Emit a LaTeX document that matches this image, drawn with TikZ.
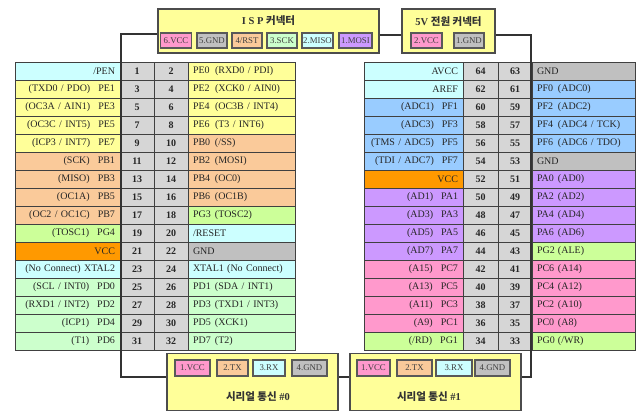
\documentclass[tikz,border=0pt]{standalone}
\usepackage{fontspec}
\setmainfont{Liberation Serif}
\newfontfamily\kor{Noto Sans CJK KR}
\definecolor{cyanc}{HTML}{CCFFFF}
\definecolor{yelc}{HTML}{FFFF99}
\definecolor{peach}{HTML}{FACA9A}
\definecolor{lime}{HTML}{CCFF99}
\definecolor{mint}{HTML}{CCFFCC}
\definecolor{vccor}{HTML}{FF9900}
\definecolor{gndgr}{HTML}{C0C0C0}
\definecolor{pingr}{HTML}{D6D6D6}
\definecolor{bluec}{HTML}{99CCFF}
\definecolor{purp}{HTML}{CC99FF}
\definecolor{pinkc}{HTML}{FF99CC}

\begin{document}
\begin{tikzpicture}[x=1pt,y=-1pt,
  tcell/.style={draw=black!75, line width=0.7pt, minimum height=18, inner xsep=5, inner ysep=0, text=black!85, font=\fontsize{10}{11}\selectfont},
  lcl/.style={tcell, text width=95, align=right},
  lcr/.style={tcell, text width=97, align=left},
  rcl/.style={tcell, text width=89, align=right},
  rcr/.style={tcell, text width=93, align=left},
  pinno/.style={tcell, minimum width=#1, fill=pingr, font=\bfseries\fontsize{10}{11}\selectfont},
  conbox/.style={draw=black!70, line width=1.5pt, fill=yelc, inner sep=0},
  pinbox/.style={draw=black!65, line width=1.2pt, minimum height=15, inner sep=0, text=black!75, font=\fontsize{8.8}{10}\selectfont},
  contitle/.style={font=\bfseries\fontsize{10.5}{12}\selectfont, text=black!80},
  wire/.style={draw=black!80, line width=1.5pt}]
\useasboundingbox (0,0) rectangle (640,418);
\node[lcl, fill=cyanc] (l1a) at (67.5,71) {/PEN};
\node[pinno=34] (l1b) at (137,71) {1};
\node[pinno=34] (l1c) at (171,71) {2};
\node[lcr, fill=yelc] (l1d) at (241.5,71) {\makebox[22pt][l]{PE0}(RXD0 / PDI)};
\node[lcl, fill=yelc] (l2a) at (67.5,89) {(TXD0 / PDO)\hspace{8pt}PE1};
\node[pinno=34] (l2b) at (137,89) {3};
\node[pinno=34] (l2c) at (171,89) {4};
\node[lcr, fill=yelc] (l2d) at (241.5,89) {\makebox[22pt][l]{PE2}(XCK0 / AIN0)};
\node[lcl, fill=yelc] (l3a) at (67.5,107) {(OC3A / AIN1)\hspace{8pt}PE3};
\node[pinno=34] (l3b) at (137,107) {5};
\node[pinno=34] (l3c) at (171,107) {6};
\node[lcr, fill=yelc] (l3d) at (241.5,107) {\makebox[22pt][l]{PE4}(OC3B / INT4)};
\node[lcl, fill=yelc] (l4a) at (67.5,125) {(OC3C / INT5)\hspace{8pt}PE5};
\node[pinno=34] (l4b) at (137,125) {7};
\node[pinno=34] (l4c) at (171,125) {8};
\node[lcr, fill=yelc] (l4d) at (241.5,125) {\makebox[22pt][l]{PE6}(T3 / INT6)};
\node[lcl, fill=yelc] (l5a) at (67.5,143) {(ICP3 / INT7)\hspace{8pt}PE7};
\node[pinno=34] (l5b) at (137,143) {9};
\node[pinno=34] (l5c) at (171,143) {10};
\node[lcr, fill=peach] (l5d) at (241.5,143) {\makebox[22pt][l]{PB0}(/SS)};
\node[lcl, fill=peach] (l6a) at (67.5,161) {(SCK)\hspace{8pt}PB1};
\node[pinno=34] (l6b) at (137,161) {11};
\node[pinno=34] (l6c) at (171,161) {12};
\node[lcr, fill=peach] (l6d) at (241.5,161) {\makebox[22pt][l]{PB2}(MOSI)};
\node[lcl, fill=peach] (l7a) at (67.5,179) {(MISO)\hspace{8pt}PB3};
\node[pinno=34] (l7b) at (137,179) {13};
\node[pinno=34] (l7c) at (171,179) {14};
\node[lcr, fill=peach] (l7d) at (241.5,179) {\makebox[22pt][l]{PB4}(OC0)};
\node[lcl, fill=peach] (l8a) at (67.5,197) {(OC1A)\hspace{8pt}PB5};
\node[pinno=34] (l8b) at (137,197) {15};
\node[pinno=34] (l8c) at (171,197) {16};
\node[lcr, fill=peach] (l8d) at (241.5,197) {\makebox[22pt][l]{PB6}(OC1B)};
\node[lcl, fill=peach] (l9a) at (67.5,215) {(OC2 / OC1C)\hspace{8pt}PB7};
\node[pinno=34] (l9b) at (137,215) {17};
\node[pinno=34] (l9c) at (171,215) {18};
\node[lcr, fill=lime] (l9d) at (241.5,215) {\makebox[22pt][l]{PG3}(TOSC2)};
\node[lcl, fill=lime] (l10a) at (67.5,233) {(TOSC1)\hspace{8pt}PG4};
\node[pinno=34] (l10b) at (137,233) {19};
\node[pinno=34] (l10c) at (171,233) {20};
\node[lcr, fill=cyanc] (l10d) at (241.5,233) {/RESET};
\node[lcl, fill=vccor] (l11a) at (67.5,251) {VCC};
\node[pinno=34] (l11b) at (137,251) {21};
\node[pinno=34] (l11c) at (171,251) {22};
\node[lcr, fill=gndgr] (l11d) at (241.5,251) {GND};
\node[lcl, fill=cyanc] (l12a) at (67.5,269) {(No Connect) XTAL2};
\node[pinno=34] (l12b) at (137,269) {23};
\node[pinno=34] (l12c) at (171,269) {24};
\node[lcr, fill=cyanc] (l12d) at (241.5,269) {XTAL1 (No Connect)};
\node[lcl, fill=mint] (l13a) at (67.5,287) {(SCL / INT0)\hspace{8pt}PD0};
\node[pinno=34] (l13b) at (137,287) {25};
\node[pinno=34] (l13c) at (171,287) {26};
\node[lcr, fill=mint] (l13d) at (241.5,287) {\makebox[22pt][l]{PD1}(SDA / INT1)};
\node[lcl, fill=mint] (l14a) at (67.5,305) {(RXD1 / INT2)\hspace{8pt}PD2};
\node[pinno=34] (l14b) at (137,305) {27};
\node[pinno=34] (l14c) at (171,305) {28};
\node[lcr, fill=mint] (l14d) at (241.5,305) {\makebox[22pt][l]{PD3}(TXD1 / INT3)};
\node[lcl, fill=mint] (l15a) at (67.5,323) {(ICP1)\hspace{8pt}PD4};
\node[pinno=34] (l15b) at (137,323) {29};
\node[pinno=34] (l15c) at (171,323) {30};
\node[lcr, fill=mint] (l15d) at (241.5,323) {\makebox[22pt][l]{PD5}(XCK1)};
\node[lcl, fill=mint] (l16a) at (67.5,341) {(T1)\hspace{8pt}PD6};
\node[pinno=34] (l16b) at (137,341) {31};
\node[pinno=34] (l16c) at (171,341) {32};
\node[lcr, fill=mint] (l16d) at (241.5,341) {\makebox[22pt][l]{PD7}(T2)};
\node[rcl, fill=cyanc] (r1a) at (413.5,71) {AVCC};
\node[pinno=35] (r1b) at (480.5,71) {64};
\node[pinno=34] (r1c) at (515,71) {63};
\node[rcr, fill=gndgr] (r1d) at (583.5,71) {GND};
\node[rcl, fill=cyanc] (r2a) at (413.5,89) {AREF};
\node[pinno=35] (r2b) at (480.5,89) {62};
\node[pinno=34] (r2c) at (515,89) {61};
\node[rcr, fill=bluec] (r2d) at (583.5,89) {\makebox[21pt][l]{PF0}(ADC0)};
\node[rcl, fill=bluec] (r3a) at (413.5,107) {(ADC1)\hspace{8pt}PF1};
\node[pinno=35] (r3b) at (480.5,107) {60};
\node[pinno=34] (r3c) at (515,107) {59};
\node[rcr, fill=bluec] (r3d) at (583.5,107) {\makebox[21pt][l]{PF2}(ADC2)};
\node[rcl, fill=bluec] (r4a) at (413.5,125) {(ADC3)\hspace{8pt}PF3};
\node[pinno=35] (r4b) at (480.5,125) {58};
\node[pinno=34] (r4c) at (515,125) {57};
\node[rcr, fill=bluec] (r4d) at (583.5,125) {\makebox[21pt][l]{PF4}(ADC4 / TCK)};
\node[rcl, fill=bluec] (r5a) at (413.5,143) {(TMS / ADC5)\hspace{8pt}PF5};
\node[pinno=35] (r5b) at (480.5,143) {56};
\node[pinno=34] (r5c) at (515,143) {55};
\node[rcr, fill=bluec] (r5d) at (583.5,143) {\makebox[21pt][l]{PF6}(ADC6 / TDO)};
\node[rcl, fill=bluec] (r6a) at (413.5,161) {(TDI / ADC7)\hspace{8pt}PF7};
\node[pinno=35] (r6b) at (480.5,161) {54};
\node[pinno=34] (r6c) at (515,161) {53};
\node[rcr, fill=gndgr] (r6d) at (583.5,161) {GND};
\node[rcl, fill=vccor] (r7a) at (413.5,179) {VCC};
\node[pinno=35] (r7b) at (480.5,179) {52};
\node[pinno=34] (r7c) at (515,179) {51};
\node[rcr, fill=purp] (r7d) at (583.5,179) {\makebox[21pt][l]{PA0}(AD0)};
\node[rcl, fill=purp] (r8a) at (413.5,197) {(AD1)\hspace{8pt}PA1};
\node[pinno=35] (r8b) at (480.5,197) {50};
\node[pinno=34] (r8c) at (515,197) {49};
\node[rcr, fill=purp] (r8d) at (583.5,197) {\makebox[21pt][l]{PA2}(AD2)};
\node[rcl, fill=purp] (r9a) at (413.5,215) {(AD3)\hspace{8pt}PA3};
\node[pinno=35] (r9b) at (480.5,215) {48};
\node[pinno=34] (r9c) at (515,215) {47};
\node[rcr, fill=purp] (r9d) at (583.5,215) {\makebox[21pt][l]{PA4}(AD4)};
\node[rcl, fill=purp] (r10a) at (413.5,233) {(AD5)\hspace{8pt}PA5};
\node[pinno=35] (r10b) at (480.5,233) {46};
\node[pinno=34] (r10c) at (515,233) {45};
\node[rcr, fill=purp] (r10d) at (583.5,233) {\makebox[21pt][l]{PA6}(AD6)};
\node[rcl, fill=purp] (r11a) at (413.5,251) {(AD7)\hspace{8pt}PA7};
\node[pinno=35] (r11b) at (480.5,251) {44};
\node[pinno=34] (r11c) at (515,251) {43};
\node[rcr, fill=lime] (r11d) at (583.5,251) {\makebox[21pt][l]{PG2}(ALE)};
\node[rcl, fill=pinkc] (r12a) at (413.5,269) {(A15)\hspace{8pt}PC7};
\node[pinno=35] (r12b) at (480.5,269) {42};
\node[pinno=34] (r12c) at (515,269) {41};
\node[rcr, fill=pinkc] (r12d) at (583.5,269) {\makebox[21pt][l]{PC6}(A14)};
\node[rcl, fill=pinkc] (r13a) at (413.5,287) {(A13)\hspace{8pt}PC5};
\node[pinno=35] (r13b) at (480.5,287) {40};
\node[pinno=34] (r13c) at (515,287) {39};
\node[rcr, fill=pinkc] (r13d) at (583.5,287) {\makebox[21pt][l]{PC4}(A12)};
\node[rcl, fill=pinkc] (r14a) at (413.5,305) {(A11)\hspace{8pt}PC3};
\node[pinno=35] (r14b) at (480.5,305) {38};
\node[pinno=34] (r14c) at (515,305) {37};
\node[rcr, fill=pinkc] (r14d) at (583.5,305) {\makebox[21pt][l]{PC2}(A10)};
\node[rcl, fill=pinkc] (r15a) at (413.5,323) {(A9)\hspace{8pt}PC1};
\node[pinno=35] (r15b) at (480.5,323) {36};
\node[pinno=34] (r15c) at (515,323) {35};
\node[rcr, fill=pinkc] (r15d) at (583.5,323) {\makebox[21pt][l]{PC0}(A8)};
\node[rcl, fill=lime] (r16a) at (413.5,341) {(/RD)\hspace{8pt}PG1};
\node[pinno=35] (r16b) at (480.5,341) {34};
\node[pinno=34] (r16c) at (515,341) {33};
\node[rcr, fill=lime] (r16d) at (583.5,341) {\makebox[21pt][l]{PG0}(/WR)};
\node[conbox, minimum width=221, minimum height=44] (isp) at (268.5,31) {};
\node[contitle] (isptitle) at (268.5,21) {I S P {\kor\bfseries 커넥터}};
\node[pinbox, minimum width=31, fill=pinkc] (isp6) at (176,40.5) {6.VCC};
\node[pinbox, minimum width=30, fill=gndgr] (isp5) at (212,40.5) {5.GND};
\node[pinbox, minimum width=30, fill=peach] (isp4) at (247,40.5) {4/RST};
\node[pinbox, minimum width=30, fill=mint] (isp3) at (282,40.5) {3.SCK};
\node[pinbox, minimum width=31, fill=cyanc] (isp2) at (317.5,40.5) {2.MISO};
\node[pinbox, minimum width=33, fill=purp] (isp1) at (355.5,40.5) {1.MOSI};
\node[conbox, minimum width=93, minimum height=44] (pwr) at (448.5,31) {};
\node[contitle] (pwrtitle) at (448.5,22) {5V {\kor\bfseries 전원 커넥터}};
\node[pinbox, minimum width=31, fill=pinkc] (pwr2) at (426.5,40.5) {2.VCC};
\node[pinbox, minimum width=30, fill=gndgr] (pwr1) at (469,40.5) {1.GND};
\node[conbox, minimum width=171, minimum height=57] (ser0) at (252.5,382) {};
\node[pinbox, minimum width=35, minimum height=16, fill=pinkc] (s0p1) at (192.5,368) {1.VCC};
\node[pinbox, minimum width=31, minimum height=16, fill=peach] (s0p2) at (232.5,368) {2.TX};
\node[pinbox, minimum width=32, minimum height=16, fill=cyanc] (s0p3) at (269,368) {3.RX};
\node[pinbox, minimum width=35, minimum height=16, fill=gndgr] (s0p4) at (309.5,368) {4.GND};
\node[contitle] (ser0title) at (258,397) {{\kor\bfseries 시리얼 통신} \#0};
\node[conbox, minimum width=171, minimum height=57] (ser1) at (435.5,382) {};
\node[pinbox, minimum width=33, minimum height=16, fill=pinkc] (s1p1) at (373.5,368) {1.VCC};
\node[pinbox, minimum width=35, minimum height=16, fill=peach] (s1p2) at (414.5,368) {2.TX};
\node[pinbox, minimum width=36, minimum height=16, fill=cyanc] (s1p3) at (454,368) {3.RX};
\node[pinbox, minimum width=35, minimum height=16, fill=gndgr] (s1p4) at (492.5,368) {4.GND};
\node[contitle] (ser1title) at (429,397) {{\kor\bfseries 시리얼 통신} \#1};
\coordinate (lbus) at (121,0);
\coordinate (rbus) at (531,0);
\draw[wire] ([yshift=-3]isp.west) -- ([yshift=-3]isp.west -| lbus) -- ([yshift=5]ser0.west -| lbus) -- ([yshift=5]ser0.west);
\draw[wire] ([yshift=-4]isp.east) -- ([yshift=-4]pwr.west);
\draw[wire] ([yshift=-4]pwr.east) -- ([yshift=-4]pwr.east -| rbus) -- ([yshift=5]ser1.east -| rbus) -- ([yshift=5]ser1.east);
\draw[wire] ([yshift=5]ser0.east) -- ([yshift=5]ser1.west);
\end{tikzpicture}
\end{document}
